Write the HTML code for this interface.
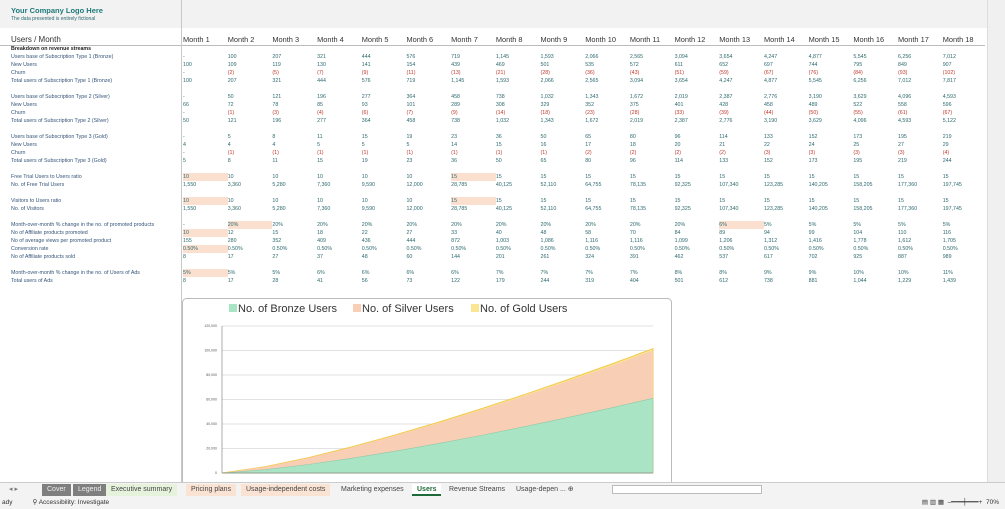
<!DOCTYPE html>
<html><head><meta charset="utf-8">
<style>
*{margin:0;padding:0;box-sizing:border-box}
body{width:1005px;height:509px;overflow:hidden;background:#fff;font-family:"Liberation Sans",sans-serif;position:relative}
#top{position:absolute;left:0;top:0;width:987px;height:28px;background:#f2f2f2}
#vline{position:absolute;left:181px;top:0;width:1px;height:482px;background:#c8c8c8}
#sheet{position:absolute;left:0;top:0;width:985px;height:482px;overflow:hidden}
.r{position:absolute;left:0;height:8px;display:flex;font-size:5.3px;line-height:8px;color:#2e6a6e;white-space:nowrap}
.r .l{width:183px;flex:none;padding-left:11px;color:#35557a}
.r span{width:44.7px;flex:none}
.n{color:#c0392b}
.h{background:#fbe0cf}
#hdr{position:absolute;left:0;top:35px;height:11px;display:flex;font-size:7.4px;color:#333;border-bottom:1px solid #bbb;width:985px;white-space:nowrap}
#hdr .l{width:183px;flex:none;padding-left:11px;font-size:8px}
#hdr span{width:44.7px;flex:none}
#vs{position:absolute;left:987px;top:0;width:18px;height:482px;background:#f0f0f0;border-left:1px solid #ddd}
#tabs{position:absolute;left:0;top:482px;width:1005px;height:14px;background:#f3f3f3;border-top:1px solid #ccc;font-size:7px;color:#444}
#tabs div{position:absolute;top:1px;height:12px;line-height:12px;padding:0 5px}
#status{position:absolute;left:0;top:496px;width:1005px;height:13px;background:#f3f3f3;font-size:6.5px;line-height:13px;color:#333}
</style></head><body>
<div id="top"></div>
<div style="position:absolute;left:11px;top:6px;font-size:7.5px;color:#1e7a7a;font-weight:bold">Your Company Logo Here</div>
<div style="position:absolute;left:11px;top:16px;font-size:5px;color:#2e6a6e">The data presented is entirely fictional</div>
<div id="sheet">
<div id="hdr"><div class="l">Users / Month</div><span>Month 1</span><span>Month 2</span><span>Month 3</span><span>Month 4</span><span>Month 5</span><span>Month 6</span><span>Month 7</span><span>Month 8</span><span>Month 9</span><span>Month 10</span><span>Month 11</span><span>Month 12</span><span>Month 13</span><span>Month 14</span><span>Month 15</span><span>Month 16</span><span>Month 17</span><span>Month 18</span><span>Month 19</span></div>
<div class="r" style="top:45px"><div class="l" style="color:#222;font-weight:bold">Breakdown on revenue streams</div></div>
<div class="r" style="top:53px"><div class="l">Users base of Subscription Type 1 (Bronze)</div><span>-</span><span>100</span><span>207</span><span>321</span><span>444</span><span>576</span><span>719</span><span>1,145</span><span>1,593</span><span>2,066</span><span>2,565</span><span>3,094</span><span>3,654</span><span>4,247</span><span>4,877</span><span>5,545</span><span>6,256</span><span>7,012</span><span>7,817</span></div>
<div class="r" style="top:61px"><div class="l">New Users</div><span>100</span><span>109</span><span>119</span><span>130</span><span>141</span><span>154</span><span>439</span><span>469</span><span>501</span><span>535</span><span>572</span><span>611</span><span>652</span><span>697</span><span>744</span><span>795</span><span>849</span><span>907</span><span>969</span></div>
<div class="r" style="top:69px"><div class="l">Churn</div><span>-</span><span class="n">(2)</span><span class="n">(5)</span><span class="n">(7)</span><span class="n">(9)</span><span class="n">(11)</span><span class="n">(13)</span><span class="n">(21)</span><span class="n">(28)</span><span class="n">(36)</span><span class="n">(43)</span><span class="n">(51)</span><span class="n">(59)</span><span class="n">(67)</span><span class="n">(76)</span><span class="n">(84)</span><span class="n">(93)</span><span class="n">(102)</span><span class="n">(111)</span></div>
<div class="r" style="top:77px"><div class="l">Total users of Subscription Type 1 (Bronze)</div><span>100</span><span>207</span><span>321</span><span>444</span><span>576</span><span>719</span><span>1,145</span><span>1,593</span><span>2,066</span><span>2,565</span><span>3,094</span><span>3,654</span><span>4,247</span><span>4,877</span><span>5,545</span><span>6,256</span><span>7,012</span><span>7,817</span><span>8,675</span></div>

<div class="r" style="top:93px"><div class="l">Users base of Subscription Type 2 (Silver)</div><span>-</span><span>50</span><span>121</span><span>196</span><span>277</span><span>364</span><span>458</span><span>738</span><span>1,032</span><span>1,343</span><span>1,672</span><span>2,019</span><span>2,387</span><span>2,776</span><span>3,190</span><span>3,629</span><span>4,096</span><span>4,593</span><span>5,122</span></div>
<div class="r" style="top:101px"><div class="l">New Users</div><span>66</span><span>72</span><span>78</span><span>85</span><span>93</span><span>101</span><span>289</span><span>308</span><span>329</span><span>352</span><span>375</span><span>401</span><span>428</span><span>458</span><span>489</span><span>522</span><span>558</span><span>596</span><span>624</span></div>
<div class="r" style="top:109px"><div class="l">Churn</div><span>-</span><span class="n">(1)</span><span class="n">(3)</span><span class="n">(4)</span><span class="n">(6)</span><span class="n">(7)</span><span class="n">(9)</span><span class="n">(14)</span><span class="n">(18)</span><span class="n">(23)</span><span class="n">(28)</span><span class="n">(33)</span><span class="n">(39)</span><span class="n">(44)</span><span class="n">(50)</span><span class="n">(55)</span><span class="n">(61)</span><span class="n">(67)</span><span class="n">(73)</span></div>
<div class="r" style="top:117px"><div class="l">Total users of Subscription Type 2 (Silver)</div><span>50</span><span>121</span><span>196</span><span>277</span><span>364</span><span>458</span><span>738</span><span>1,032</span><span>1,343</span><span>1,672</span><span>2,019</span><span>2,387</span><span>2,776</span><span>3,190</span><span>3,629</span><span>4,096</span><span>4,593</span><span>5,122</span><span>5,673</span></div>

<div class="r" style="top:133px"><div class="l">Users base of Subscription Type 3 (Gold)</div><span>-</span><span>5</span><span>8</span><span>11</span><span>15</span><span>19</span><span>23</span><span>36</span><span>50</span><span>65</span><span>80</span><span>96</span><span>114</span><span>133</span><span>152</span><span>173</span><span>195</span><span>219</span><span>244</span></div>
<div class="r" style="top:141px"><div class="l">New Users</div><span>4</span><span>4</span><span>4</span><span>5</span><span>5</span><span>5</span><span>14</span><span>15</span><span>16</span><span>17</span><span>18</span><span>20</span><span>21</span><span>22</span><span>24</span><span>25</span><span>27</span><span>29</span><span>30</span></div>
<div class="r" style="top:149px"><div class="l">Churn</div><span>-</span><span class="n">(1)</span><span class="n">(1)</span><span class="n">(1)</span><span class="n">(1)</span><span class="n">(1)</span><span class="n">(1)</span><span class="n">(1)</span><span class="n">(1)</span><span class="n">(2)</span><span class="n">(2)</span><span class="n">(2)</span><span class="n">(2)</span><span class="n">(3)</span><span class="n">(3)</span><span class="n">(3)</span><span class="n">(3)</span><span class="n">(4)</span><span class="n">(4)</span></div>
<div class="r" style="top:157px"><div class="l">Total users of Subscription Type 3 (Gold)</div><span>5</span><span>8</span><span>11</span><span>15</span><span>19</span><span>23</span><span>36</span><span>50</span><span>65</span><span>80</span><span>96</span><span>114</span><span>133</span><span>152</span><span>173</span><span>195</span><span>219</span><span>244</span><span>270</span></div>

<div class="r" style="top:173px"><div class="l">Free Trial Users to Users ratio</div><span class="h">10</span><span>10</span><span>10</span><span>10</span><span>10</span><span>10</span><span class="h">15</span><span>15</span><span>15</span><span>15</span><span>15</span><span>15</span><span>15</span><span>15</span><span>15</span><span>15</span><span>15</span><span>15</span><span class="h">15</span></div>
<div class="r" style="top:181px"><div class="l">No. of Free Trial Users</div><span>1,550</span><span>3,360</span><span>5,280</span><span>7,360</span><span>9,590</span><span>12,000</span><span>28,785</span><span>40,125</span><span>52,110</span><span>64,755</span><span>78,135</span><span>92,325</span><span>107,340</span><span>123,285</span><span>140,205</span><span>158,205</span><span>177,360</span><span>197,745</span><span>219,420</span></div>

<div class="r" style="top:197px"><div class="l">Visitors to Users ratio</div><span class="h">10</span><span>10</span><span>10</span><span>10</span><span>10</span><span>10</span><span class="h">15</span><span>15</span><span>15</span><span>15</span><span>15</span><span>15</span><span>15</span><span>15</span><span>15</span><span>15</span><span>15</span><span>15</span><span class="h">15</span></div>
<div class="r" style="top:205px"><div class="l">No. of Visitors</div><span>1,550</span><span>3,360</span><span>5,280</span><span>7,360</span><span>9,590</span><span>12,000</span><span>28,785</span><span>40,125</span><span>52,110</span><span>64,755</span><span>78,135</span><span>92,325</span><span>107,340</span><span>123,285</span><span>140,205</span><span>158,205</span><span>177,360</span><span>197,745</span><span>219,420</span></div>

<div class="r" style="top:221px"><div class="l">Month-over-month % change in the no. of promoted products</div><span>-</span><span class="h">20%</span><span>20%</span><span>20%</span><span>20%</span><span>20%</span><span>20%</span><span>20%</span><span>20%</span><span>20%</span><span>20%</span><span>20%</span><span class="h">6%</span><span>5%</span><span>5%</span><span>5%</span><span>5%</span><span>5%</span><span>5%</span></div>
<div class="r" style="top:229px"><div class="l">No of Affiliate products promoted</div><span class="h">10</span><span>12</span><span>15</span><span>18</span><span>22</span><span>27</span><span>33</span><span>40</span><span>48</span><span>58</span><span>70</span><span>84</span><span>89</span><span>94</span><span>99</span><span>104</span><span>110</span><span>116</span><span>122</span></div>
<div class="r" style="top:237px"><div class="l">No of average views per promoted product</div><span>155</span><span>280</span><span>352</span><span>409</span><span>436</span><span>444</span><span>872</span><span>1,003</span><span>1,086</span><span>1,116</span><span>1,116</span><span>1,099</span><span>1,206</span><span>1,312</span><span>1,416</span><span>1,778</span><span>1,612</span><span>1,705</span><span>2,010</span></div>
<div class="r" style="top:245px"><div class="l">Conversion rate</div><span class="h">0.50%</span><span>0.50%</span><span>0.50%</span><span>0.50%</span><span>0.50%</span><span>0.50%</span><span>0.50%</span><span>0.50%</span><span>0.50%</span><span>0.50%</span><span>0.50%</span><span>0.50%</span><span>0.50%</span><span>0.50%</span><span>0.50%</span><span>0.50%</span><span>0.50%</span><span>0.50%</span><span>0.50%</span></div>
<div class="r" style="top:253px"><div class="l">No of Affiliate products sold</div><span>8</span><span>17</span><span>27</span><span>37</span><span>48</span><span>60</span><span>144</span><span>201</span><span>261</span><span>324</span><span>391</span><span>462</span><span>537</span><span>617</span><span>702</span><span>925</span><span>887</span><span>989</span><span>1,226</span></div>

<div class="r" style="top:269px"><div class="l">Month-over-month % change in the no. of Users of Ads</div><span class="h">5%</span><span>5%</span><span>5%</span><span>6%</span><span>6%</span><span>6%</span><span>6%</span><span>7%</span><span>7%</span><span>7%</span><span>7%</span><span>8%</span><span>8%</span><span>9%</span><span>9%</span><span>10%</span><span>10%</span><span>11%</span><span>11%</span></div>
<div class="r" style="top:277px"><div class="l">Total users of Ads</div><span>8</span><span>17</span><span>28</span><span>41</span><span>56</span><span>73</span><span>122</span><span>179</span><span>244</span><span>319</span><span>404</span><span>501</span><span>612</span><span>738</span><span>881</span><span>1,044</span><span>1,229</span><span>1,439</span><span>1,677</span></div>
</div>
<div id="vline"></div>

<svg style="position:absolute;left:0;top:0" width="1005" height="482">
<rect x="182.5" y="298.5" width="489" height="190" rx="4" fill="#fff" stroke="#bbb"/>
<g font-family="Liberation Sans, sans-serif" font-size="11" fill="#333">
<rect x="229" y="304" width="8" height="8" fill="#a9e4c5"/><text x="238" y="312">No. of Bronze Users</text>
<rect x="353" y="304" width="8" height="8" fill="#f8cfb4"/><text x="362" y="312">No. of Silver Users</text>
<rect x="471" y="304" width="8" height="8" fill="#fbe592"/><text x="480" y="312">No. of Gold Users</text>
</g>
<g stroke="#d9d9d9" stroke-width="0.7">
<line x1="222" x2="653" y1="326" y2="326"/><line x1="222" x2="653" y1="350.5" y2="350.5"/><line x1="222" x2="653" y1="375" y2="375"/><line x1="222" x2="653" y1="399.5" y2="399.5"/><line x1="222" x2="653" y1="424" y2="424"/><line x1="222" x2="653" y1="448.5" y2="448.5"/>
</g>
<g font-family="Liberation Sans, sans-serif" font-size="3.5" fill="#555" text-anchor="end">
<text x="217" y="327">120,000</text><text x="217" y="351.5">100,000</text><text x="217" y="376">80,000</text><text x="217" y="400.5">60,000</text><text x="217" y="425">40,000</text><text x="217" y="449.5">20,000</text><text x="217" y="474">0</text>
</g>
<polygon fill="#fbe592" stroke="#f2c94c" stroke-width="1" points="222,473 265.1,466.8 308.2,457.7 351.3,447 394.4,435.2 437.5,422.5 480.6,409 523.7,394.8 566.8,380 609.9,364.6 653,348.7 653,473"/>
<polygon fill="#f8cfb4" points="222,473 265.1,467 308.2,458.1 351.3,447.6 394.4,435.9 437.5,423.4 480.6,410.1 523.7,396.1 566.8,381.5 609.9,366.2 653,350.5 653,473"/>
<polygon fill="#a9e4c5" stroke="#8fc9a8" stroke-width="0.6" points="222,473 265.1,469.7 308.2,464.5 351.3,458.3 394.4,451.3 437.5,443.7 480.6,435.5 523.7,426.8 566.8,417.7 609.9,408.2 653,398.3 653,473"/>
<line x1="222" x2="222" y1="326" y2="473" stroke="#888" stroke-width="0.7"/>
<line x1="222" x2="653" y1="473" y2="473" stroke="#888" stroke-width="0.7"/>
</svg>

<div id="vs"></div>
<div id="tabs">
<div style="left:4px;color:#777">◂ ▸</div>
<div style="left:42px;background:#7f7f7f;color:#eee">Cover</div>
<div style="left:73px;background:#7f7f7f;color:#eee">Legend</div>
<div style="left:106px;background:#e6f2dc">Executive summary</div>
<div style="left:186px;background:#fbe3d4">Pricing plans</div>
<div style="left:241px;background:#fbe3d4">Usage-independent costs</div>
<div style="left:336px">Marketing expenses</div>
<div style="left:412px;background:#fff;color:#1e6b3a;font-weight:bold;border-bottom:2px solid #1e6b3a">Users</div>
<div style="left:444px">Revenue Streams</div>
<div style="left:511px">Usage-depen ...  ⊕</div>
<div style="left:612px;top:2px;width:150px;height:9px;background:#fff;border:1px solid #bbb;padding:0"></div>
</div>
<div id="status"><span style="margin-left:2px">ady</span><span style="margin-left:20px">⚲ Accessibility: Investigate</span><span style="position:absolute;right:6px">▤ ▥ ▦ &nbsp;–━━━┿━━━+ &nbsp;70%</span></div>
</body></html>
